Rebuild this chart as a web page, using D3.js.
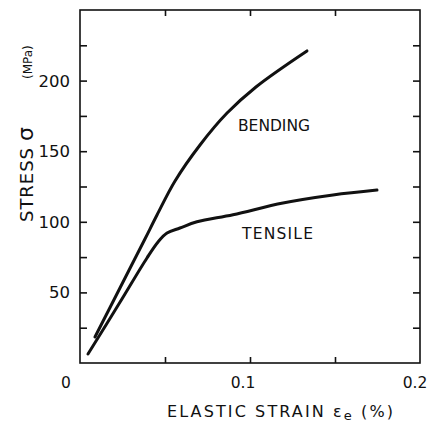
<!DOCTYPE html>
<html>
<head>
<meta charset="utf-8">
<script src="https://cdn.jsdelivr.net/npm/d3@7"></script>
<style>
  html, body { margin: 0; padding: 0; background: #fff; }
  svg { display: block; }
  text { font-family: "DejaVu Sans", sans-serif; fill: #111; }
</style>
</head>
<body>
<svg id="chart" width="432" height="425"></svg>
<script>
// ---- data ----
const bendingStrain = [0.0088, 0.0235, 0.0382, 0.0453, 0.0559, 0.0706, 0.0865, 0.1035, 0.1335];
const bendingStress = [18.4, 53.1, 87.8, 104.8, 128.9, 154.4, 177, 195.5, 221];
const tensileStrain = [0.0047, 0.0235, 0.0394, 0.0459, 0.0512, 0.0588, 0.0688, 0.09, 0.1194, 0.1488, 0.1747];
const tensileStress = [6.4, 43, 74.4, 85.7, 92, 95.6, 100, 105, 113.3, 119, 122.5];
const yTickValues = [50, 100, 150, 200];
const yTickLabels = ["50", "100", "150", "200"];
const xTickValues = [0.1, 0.2];
const xTickLabels = ["0.1", "0.2"];
const seriesNames = ["BENDING", "TENSILE"];

// ---- layout ----
const mLeft = 80, mRight = 420, mTop = 10, mBottom = 363;
const svg = d3.select("#chart");
const x = d3.scaleLinear().domain([0, 0.2]).range([mLeft, mRight]);
const y = d3.scaleLinear().domain([0, 250]).range([mBottom, mTop]);

const ink = "#111";

// frame
svg.append("rect")
  .attr("x", mLeft).attr("y", mTop)
  .attr("width", mRight - mLeft).attr("height", mBottom - mTop)
  .attr("fill", "none").attr("stroke", ink).attr("stroke-width", 1.6);

// inward ticks via axes
const yMinor = d3.range(25, 250, 25);
const xMinor = [0.05, 0.1, 0.15];
const tickStyle = g => {
  g.select(".domain").remove();
  g.selectAll("text").remove();
  g.selectAll("line").attr("stroke", ink).attr("stroke-width", 1.6);
};
svg.append("g").attr("transform", `translate(${mLeft},0)`)
  .call(d3.axisRight(y).tickValues(yMinor).tickSizeInner(7).tickSizeOuter(0)).call(tickStyle);
svg.append("g").attr("transform", `translate(${mRight},0)`)
  .call(d3.axisLeft(y).tickValues(yMinor).tickSizeInner(7).tickSizeOuter(0)).call(tickStyle);
svg.append("g").attr("transform", `translate(0,${mBottom})`)
  .call(d3.axisTop(x).tickValues(xMinor).tickSizeInner(6).tickSizeOuter(0)).call(tickStyle);
svg.append("g").attr("transform", `translate(0,${mTop})`)
  .call(d3.axisBottom(x).tickValues(xMinor).tickSizeInner(6).tickSizeOuter(0)).call(tickStyle);

// y tick labels
svg.append("g").selectAll("text").data(yTickValues).join("text")
  .attr("x", 70).attr("y", d => y(d)).attr("dy", "0.36em")
  .attr("text-anchor", "end").attr("font-size", 16.5)
  .text((d, i) => yTickLabels[i]);

// x tick labels
svg.append("g").selectAll("text").data(xTickValues).join("text")
  .attr("x", d => x(d) - (d === 0.1 ? 7 : 5)).attr("y", 388)
  .attr("text-anchor", "middle").attr("font-size", 15.5)
  .text((d, i) => xTickLabels[i]);
// origin label
svg.append("text").attr("x", 66).attr("y", 388)
  .attr("text-anchor", "middle").attr("font-size", 15.5).text("0");

// curves
const line = d3.line().x(d => x(d[0])).y(d => y(d[1])).curve(d3.curveCatmullRom.alpha(0.5));
const bending = bendingStrain.map((v, i) => [v, bendingStress[i]]);
const tensile = tensileStrain.map((v, i) => [v, tensileStress[i]]);
[bending, tensile].forEach(data => {
  svg.append("path").datum(data).attr("d", line)
    .attr("fill", "none").attr("stroke", ink).attr("stroke-width", 3)
    .attr("stroke-linecap", "round").attr("stroke-linejoin", "round");
});

// series labels
svg.append("text").attr("x", 238).attr("y", 131).attr("font-size", 15.5)
  .attr("textLength", 72).text(seriesNames[0]);
svg.append("text").attr("x", 242).attr("y", 239).attr("font-size", 15.5)
  .attr("textLength", 71).text(seriesNames[1]);

// x axis title
const xt = svg.append("text").attr("x", 167).attr("y", 417).attr("font-size", 16)
  .attr("textLength", 226).attr("lengthAdjust", "spacing");
xt.append("tspan").text("ELASTIC  STRAIN  ε");
xt.append("tspan").attr("font-size", 13).attr("dy", 3).text("e");
xt.append("tspan").attr("dy", -3).text(" (%)");

// y axis title (rotated pieces)
svg.append("text").attr("transform", "translate(33,222) rotate(-90)")
  .attr("font-size", 18).attr("textLength", 74).attr("lengthAdjust", "spacing").text("STRESS");
svg.append("text").attr("transform", "translate(33,141) rotate(-90)")
  .attr("font-size", 22).text("σ");
svg.append("text").attr("transform", "translate(32,79) rotate(-90)")
  .attr("font-size", 12).text("(MPa)");
</script>
</body>
</html>
